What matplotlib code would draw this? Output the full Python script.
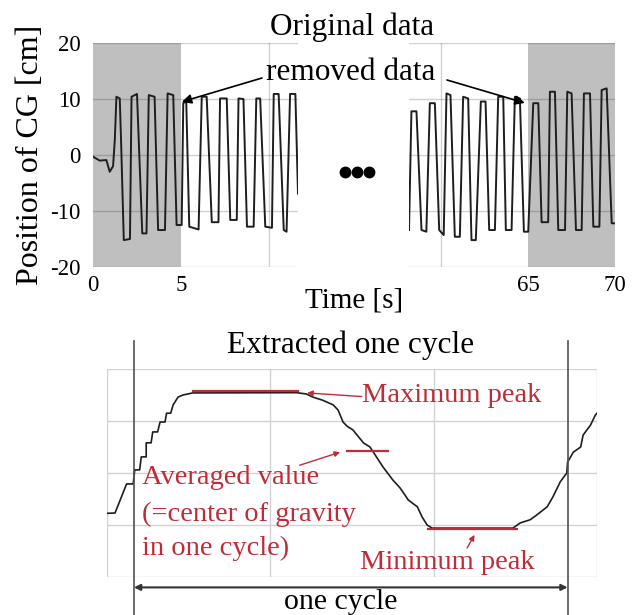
import matplotlib
matplotlib.use('Agg')
import matplotlib.pyplot as plt
from matplotlib.lines import Line2D

plt.rcParams['font.family'] = ['Liberation Serif', 'DejaVu Serif']

# ---- top: original CG trace ----
t_left = [0.0, 0.38, 0.76, 0.95, 1.14, 1.24, 1.33, 1.52, 1.6, 1.75, 2.1, 2.19, 2.5, 2.8, 3.04,
          3.17, 3.5, 3.7, 4.09, 4.24, 4.56, 4.75, 5.04, 5.13, 5.3, 5.47, 6.0, 6.18, 6.46, 6.75,
          7.13, 7.22, 7.6, 7.8, 8.17, 8.27, 8.55, 8.75, 9.13, 9.28, 9.5, 9.79, 10.17, 10.27,
          10.55, 10.84, 11.0, 11.2, 11.5, 11.65]
v_left = [-0.3, -1.0, -0.9, -3.0, -2.0, 2.7, 10.4, 10.1, 2.0, -15.2, -15.0, 10.4, 10.9, -14.0, -14.0,
          10.7, 10.4, -13.4, -13.4, 11.0, 10.7, -12.5, -12.5, 9.3, 9.5, -12.8, -13.3, 10.4, 10.4, -12.0,
          -12.0, 10.1, 10.1, -11.6, -11.6, 10.1, 10.0, -12.8, -12.8, 10.1, 10.1, -12.8, -13.0, 10.9,
          10.9, -13.4, -13.7, 10.9, 10.9, -6.9]

t_right = [58.13, 58.27, 58.56, 58.85, 59.13, 59.33, 59.62, 59.87, 60.13, 60.29, 60.52, 60.77, 61.06,
           61.25, 61.54, 61.73, 61.98, 62.27, 62.54, 62.75, 63.08, 63.27, 63.56, 63.71, 64.04, 64.23,
           64.52, 64.75, 65.0, 65.29, 65.58, 65.77, 66.15, 66.25, 66.54, 66.73, 67.12, 67.25, 67.5,
           67.75, 68.08, 68.21, 68.56, 68.75, 69.1, 69.23, 69.52, 69.81, 70.0]
v_right = [-13.4, 7.8, 7.8, -13.4, -13.7, 9.25, 9.25, -13.4, -14.3, 11.0, 10.7, -14.6, -14.6,
           10.4, 10.1, -15.2, -15.2, 9.55, 9.55, -13.4, -13.4, 10.4, 10.4, -13.4, -13.4, 10.4,
           10.1, -13.7, -13.7, 9.25, 9.25, -12.0, -12.0, 11.3, 11.3, -13.4, -13.4, 11.3, 11.0,
           -13.4, -13.4, 11.0, 11.0, -12.8, -12.8, 11.6, 11.9, -12.2, -12.2]

y_ticks = [-20, -10, 0, 10, 20]
removed_left = (0, 5)
removed_right = (65, 70)

# ---- bottom: extracted one cycle ----
cyc_x = [0.0, 0.49, 1.2, 1.6, 1.7, 2.0, 2.1, 2.4, 2.4, 2.7, 2.8, 3.1, 3.25, 3.55, 3.65, 3.9, 4.05,
         4.35, 4.65, 5.25, 11.6, 12.2, 12.6, 13.2, 13.85, 14.15, 14.45, 14.7, 15.05, 15.7, 16.1,
         16.9, 17.5, 17.95, 18.45, 19.0, 19.3, 19.6, 19.9, 24.85, 25.3, 25.9, 26.3, 26.95, 27.3,
         27.75, 28.15, 28.2, 28.55, 29.0, 29.15, 29.6, 29.9, 30.0]
cyc_y = [-7.75, -7.7, -2.1, -2.1, 0.6, 0.6, 3.1, 3.1, 5.8, 5.8, 7.9, 7.9, 9.8, 9.8, 11.5, 11.5, 13.1,
         14.6, 15.0, 15.4, 15.45, 15.2, 14.6, 14.0, 13.1, 12.1, 9.8, 9.0, 8.3, 5.8, 5.0,
         1.15, -1.35, -2.9, -5.2, -6.5, -8.5, -10.0, -10.6, -10.6, -9.6, -9.0, -8.1, -6.5, -4.6,
         -1.7, 0.0, 2.1, 4.0, 5.0, 7.3, 9.2, 11.15, 11.5]
cycle_start, cycle_end = 1.65, 28.2
max_peak = (5.25, 11.7, 15.8)
avg_value = (14.7, 17.2, 4.2)
min_peak = (19.65, 25.1, -10.8)

W, H = 636, 615
red = '#bf2c38'


def fx(px):
    return px / W


def fy(py):
    return 1 - py / H


fig = plt.figure(figsize=(6.36, 6.15), dpi=100)

ax1 = fig.add_axes([fx(93), fy(267), fx(298) - fx(93), fy(43) - fy(267)])
ax2 = fig.add_axes([fx(409), fy(267), fx(615) - fx(409), fy(43) - fy(267)])

for ax, t, v, span, xl in [(ax1, t_left, v_left, removed_left, (0, 11.65)),
                           (ax2, t_right, v_right, removed_right, (58.13, 70))]:
    ax.axvspan(*span, color='#bfbfbf', lw=0, zorder=0)
    ax.plot(t, v, color='#1e1e1e', lw=1.4, zorder=3)
    ax.set_xlim(*xl)
    ax.set_ylim(-20, 20)
    ax.set_yticks(y_ticks)
    ax.grid(axis='y', color='black', alpha=0.18, lw=1)
    for s in ax.spines.values():
        s.set_visible(False)
    ax.tick_params(length=0, labelsize=16.5, pad=6)

ax1.axvline(10, color='black', alpha=0.18, lw=1)
ax2.axvline(60, color='black', alpha=0.18, lw=1)
ax1.set_xticks([0, 5])
ax1.set_yticklabels([str(v) for v in y_ticks])
ax1.tick_params(axis='y', pad=9)
ax2.set_xticks([65, 70])
ax2.set_yticklabels([])

fig.text(fx(30), fy(155), 'Position of CG [cm]', rotation=90, ha='center', va='center', fontsize=23)
fig.text(fx(352), fy(35), 'Original data', ha='center', va='baseline', fontsize=22.5)
fig.text(fx(266), fy(80), 'removed data', ha='left', va='baseline', fontsize=22.5)
fig.text(fx(354), fy(307), 'Time [s]', ha='center', va='baseline', fontsize=21)
fig.add_artist(Line2D([fx(345), fx(357), fx(369)], [fy(172)] * 3, transform=fig.transFigure,
                      ls='none', marker='o', ms=7.5, color='black'))

arr = dict(arrowstyle='-|>', color='black', lw=1.2, mutation_scale=14, shrinkA=0, shrinkB=0)
ax1.annotate('', xy=(5.05, 9.5), xytext=(fx(262), fy(78)), textcoords='figure fraction',
             arrowprops=arr, annotation_clip=False)
ax2.annotate('', xy=(64.8, 9.3), xytext=(fx(447), fy(80)), textcoords='figure fraction',
             arrowprops=arr, annotation_clip=False)

# ---- bottom panel ----
ax3 = fig.add_axes([fx(107), fy(577), fx(597) - fx(107), fy(369) - fy(577)])
ax3.set_xlim(0, 30)
ax3.set_ylim(-20, 20)
ax3.set_xticks([0, 10, 20, 30])
ax3.set_yticks(y_ticks)
ax3.grid(True, color='#d2d2d2', lw=1)
ax3.tick_params(length=0, labelbottom=False, labelleft=False)
for s in ax3.spines.values():
    s.set_visible(False)

ax3.plot(cyc_x, cyc_y, color='#1e1e1e', lw=1.2, zorder=3)
for x0, x1, yv in [max_peak, avg_value, min_peak]:
    ax3.plot([x0, x1], [yv, yv], color=red, lw=1.6, zorder=4)

for xc in [cycle_start, cycle_end]:
    ax3.plot([xc, xc], [25.4, -27.3], color='#505050', lw=1.2, clip_on=False, zorder=5)

ax3.annotate('', xy=(cycle_start, -22.0), xytext=(cycle_end, -22.0),
             arrowprops=dict(arrowstyle='<|-|>', color='#333333', lw=1.5, mutation_scale=9,
                             shrinkA=0, shrinkB=0), annotation_clip=False)
ax3.text(14.3, -26.15, 'one cycle', ha='center', va='baseline', fontsize=21.5, clip_on=False)
fig.text(fx(351), fy(353), 'Extracted one cycle', ha='center', va='baseline', fontsize=22.5)

rarr = dict(arrowstyle='-|>', color=red, lw=1.0, mutation_scale=8, shrinkA=0, shrinkB=0)
ax3.annotate('', xy=(12.25, 15.4), xytext=(15.6, 14.7), arrowprops=rarr)
ax3.text(15.6, 13.7, 'Maximum peak', color=red, fontsize=20.5, va='baseline', ha='left')
ax3.annotate('', xy=(14.27, 4.0), xytext=(11.8, 1.5), arrowprops=rarr)
for line, yb in zip(['Averaged value', '(=center of gravity', 'in one cycle)'], [-2.1, -9.2, -15.8]):
    ax3.text(2.14, yb, line, color=red, fontsize=20.5, va='baseline', ha='left')
ax3.annotate('', xy=(22.5, -11.9), xytext=(22.05, -14.4), arrowprops=rarr)
ax3.text(15.5, -18.5, 'Minimum peak', color=red, fontsize=20.5, va='baseline', ha='left')

fig.savefig('out.png', dpi=100)
